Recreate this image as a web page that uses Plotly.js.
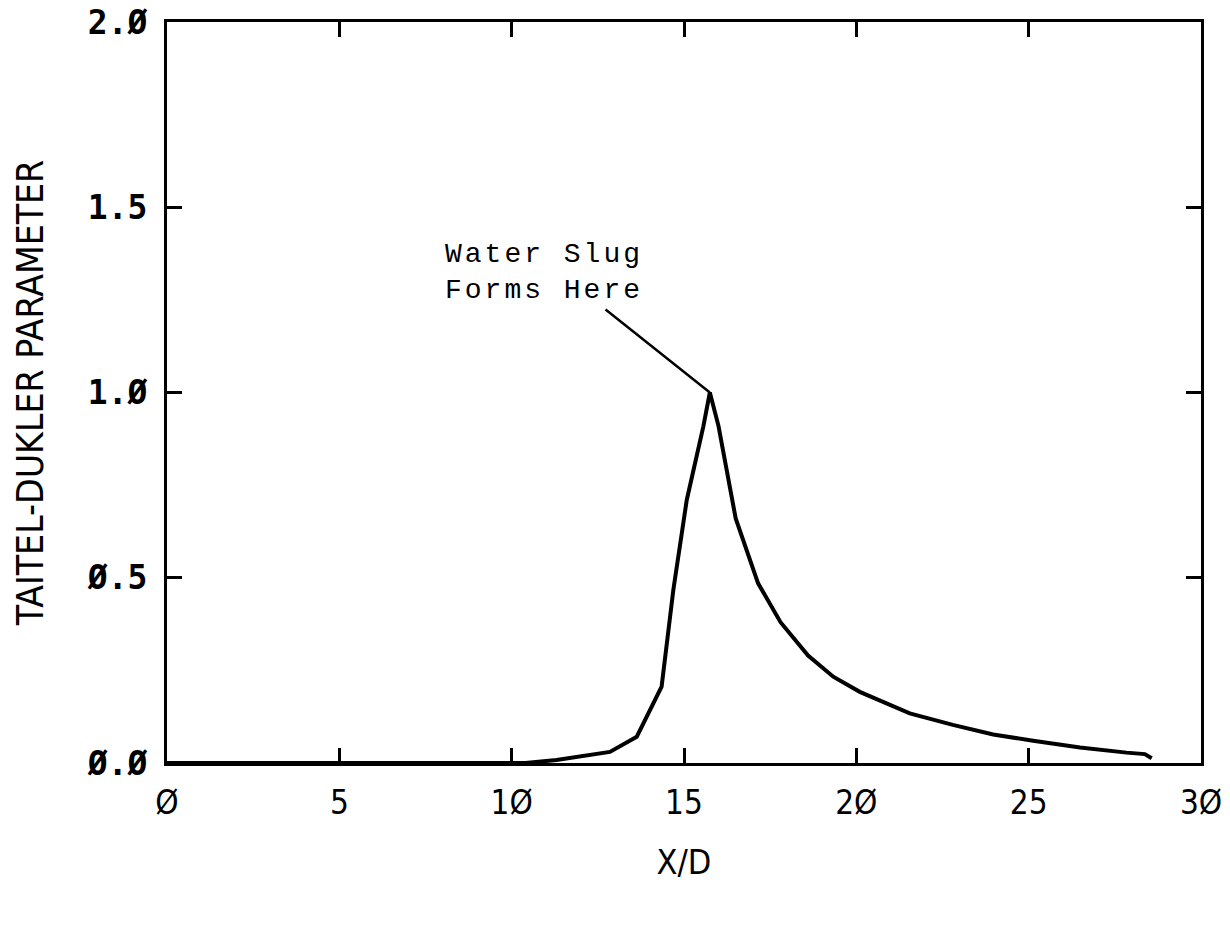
<!DOCTYPE html>
<html>
<head>
<meta charset="utf-8">
<script src="https://cdn.plot.ly/plotly-3.0.1.min.js"></script>
<style>html,body{margin:0;padding:0;background:#fff;}</style>
</head>
<body>
<div id="chart" style="width:1230px;height:931px;"></div>
<script>
// X/D positions along the pipe
const xd = [0, 5, 10, 10.4, 11.3, 12.85, 13.63, 14.35, 14.69, 15.08, 15.56, 15.75, 16.0, 16.5, 17.15, 17.8, 18.6, 19.33, 20.1, 21.55, 22.8, 23.97, 25.13, 26.49, 27.84, 28.37, 28.57];
// Taitel-Dukler parameter values
const tdParam = [0, 0, 0, 0.0, 0.008, 0.03, 0.071, 0.206, 0.467, 0.71, 0.908, 1.0, 0.91, 0.66, 0.485, 0.38, 0.29, 0.233, 0.192, 0.134, 0.103, 0.077, 0.06, 0.042, 0.028, 0.024, 0.013];

const xTickVals = [0, 5, 10, 15, 20, 25, 30];
const xTickText = ["Ø", "5", "1Ø", "15", "2Ø", "25", "3Ø"];
const yTickVals = [0, 0.5, 1.0, 1.5, 2.0];
const yTickText = ["Ø.Ø", "Ø.5", "1.Ø", "1.5", "2.Ø"];

const annotationText = "Water Slug<br>Forms Here";
const peakX = 15.75, peakY = 1.0;
const tailX = 12.68, tailY = 1.227;
const labelX = 8.0, labelY = 1.42;

const trace = {
  x: xd, y: tdParam, type: 'scatter', mode: 'lines',
  line: {color: '#000', width: 4},
  cliponaxis: false, hoverinfo: 'none'
};

const layout = {
  width: 1230, height: 931,
  margin: {l: 167, r: 29, t: 22, b: 168},
  paper_bgcolor: '#fff', plot_bgcolor: '#fff',
  showlegend: false,
  xaxis: {
    range: [0, 30], tickvals: xTickVals, ticktext: xTickText,
    ticks: 'inside', ticklen: 15, tickwidth: 3, tickcolor: '#000',
    showline: true, linewidth: 3, linecolor: '#000', mirror: 'ticks',
    showgrid: false, zeroline: false,
    tickfont: {family: 'DejaVu Sans Condensed, sans-serif', size: 33, color: '#000'},
    ticklabelstandoff: 8,
    title: {text: 'X/D', font: {family: 'DejaVu Sans Condensed, sans-serif', size: 34, color: '#000'}, standoff: 30}
  },
  yaxis: {
    range: [0, 2], tickvals: yTickVals, ticktext: yTickText,
    ticks: 'inside', ticklen: 15, tickwidth: 3, tickcolor: '#000',
    showline: true, linewidth: 3, linecolor: '#000', mirror: 'ticks',
    showgrid: false, zeroline: false,
    tickfont: {family: 'DejaVu Sans Mono, monospace', size: 33, color: '#000', weight: 'bold'},
    ticklabelstandoff: 10,
    title: {text: 'TAITEL-DUKLER PARAMETER', font: {family: 'DejaVu Sans Condensed, sans-serif', size: 37, color: '#000'}, standoff: 32}
  },
  annotations: [
    {x: peakX, y: peakY, xref: 'x', yref: 'y', ax: tailX, ay: tailY, axref: 'x', ayref: 'y',
     text: '', showarrow: true, arrowhead: 0, arrowwidth: 2.5, arrowcolor: '#000', standoff: 0, startstandoff: 0},
    {x: labelX, y: labelY, xref: 'x', yref: 'y', xanchor: 'left', yanchor: 'top', align: 'left',
     text: annotationText, showarrow: false,
     font: {family: 'Liberation Mono, monospace', size: 28, color: '#000'}}
  ]
};

Plotly.newPlot('chart', [trace], layout, {displayModeBar: false, staticPlot: true}).then(() => {
  document.querySelectorAll('.annotation-text').forEach(el => { el.style.letterSpacing = '3px'; });
});
</script>
</body>
</html>
